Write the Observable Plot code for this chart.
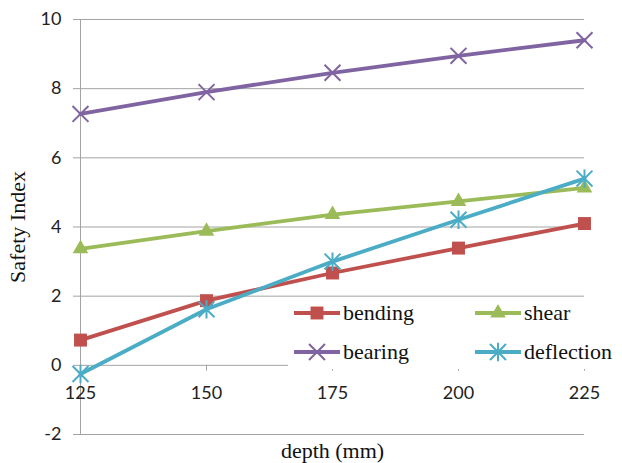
<!DOCTYPE html>
<html>
<head>
<meta charset="utf-8">
<script src="https://cdn.jsdelivr.net/npm/d3@7"></script>
<script src="https://cdn.jsdelivr.net/npm/@observablehq/plot@0.6"></script>
<style>
  html, body { margin: 0; padding: 0; background: #fff; }
  #wrap { position: relative; width: 622px; height: 463px; overflow: hidden; }
  #legend {
    position: absolute; left: 288px; top: 298px; width: 334px; height: 71px;
    background: #fff;
  }
  .item { position: absolute; display: flex; align-items: center; height: 30px; }
  .item svg { display: block; margin-right: 2px; }
  .item span { font-family: "Liberation Serif", "DejaVu Serif", serif; font-size: 22px; color: #111; }
</style>
</head>
<body>
<div id="wrap"><div id="chart"></div><div id="legend"></div></div>
<script>
// Safety index of the section against each check, by section depth
const depth = [125, 150, 175, 200, 225];
const bending = [0.73, 1.87, 2.67, 3.39, 4.10];
const shear = [3.37, 3.88, 4.36, 4.74, 5.13];
const bearing = [7.27, 7.90, 8.46, 8.95, 9.40];
const deflection = [-0.25, 1.62, 3.00, 4.21, 5.40];

const seriesNames = ["bending", "shear", "bearing", "deflection"];
const seriesColors = ["#C0504D", "#9BBB59", "#8064A2", "#4BACC6"];
const yTicks = [-2, 0, 2, 4, 6, 8, 10];
const xTicks = [125, 150, 175, 200, 225];

// marker shapes: filled square, filled triangle, "x" and star (x with a vertical bar)
const timesSymbol = {
  draw(c, size) {
    const h = Math.sqrt(size) / 2;
    c.moveTo(-h, -h); c.lineTo(h, h);
    c.moveTo(-h, h); c.lineTo(h, -h);
  }
};
const starSymbol = {
  draw(c, size) {
    const h = Math.sqrt(size) / 2;
    c.moveTo(-h, -h); c.lineTo(h, h);
    c.moveTo(-h, h); c.lineTo(h, -h);
    c.moveTo(0, -h * 1.15); c.lineTo(0, h * 1.15);
  }
};
const symbols = [d3.symbolSquare, d3.symbolTriangle, timesSymbol, starSymbol];
const markerR = [7.3, 5.8, 9, 9];
const filled = [true, true, false, false];

const values = [bending, shear, bearing, deflection];
const rows = seriesNames.flatMap((name, i) =>
  depth.map((d, j) => ({series: name, depth: d, value: values[i][j]}))
);

const grid = "#a3a3a3";
const serif = "Liberation Serif, DejaVu Serif, serif";

const marks = [
  Plot.ruleY(yTicks, {stroke: grid, strokeWidth: 1}),
  Plot.ruleX([depth[0]], {stroke: grid, strokeWidth: 1}),
  Plot.axisY(yTicks, {tickSize: 7, tickPadding: 12, stroke: grid, fill: "#222", fontSize: 18, fontFamily: "Lato", label: null, tickFormat: d => String(d)}),
  // x-axis ticks hang below the zero line, labels underneath
  Plot.ruleX(xTicks, {y1: 0, y2: -0.17, stroke: grid, strokeWidth: 1}),
  Plot.text(xTicks, {x: d => d, y: 0, dy: 28, text: d => String(d), fill: "#222", fontSize: 18, fontFamily: "Lato"}),
  Plot.text(["Safety Index"], {frameAnchor: "left", textAnchor: "middle", lineAnchor: "middle", dx: -63, rotate: -90, fontSize: 22, fontFamily: serif, fill: "#111"}),
  Plot.text(["depth (mm)"], {frameAnchor: "bottom", textAnchor: "middle", lineAnchor: "middle", dy: 16, fontSize: 22, fontFamily: serif, fill: "#111"})
];

seriesNames.forEach((name, i) => {
  const data = rows.filter(r => r.series === name);
  marks.push(Plot.line(data, {x: "depth", y: "value", stroke: seriesColors[i], strokeWidth: 3.8}));
  marks.push(Plot.dot(data, {
    x: "depth", y: "value", symbol: symbols[i], r: markerR[i],
    fill: filled[i] ? seriesColors[i] : "none",
    stroke: seriesColors[i], strokeWidth: filled[i] ? 0 : 2
  }));
});

const chart = Plot.plot({
  width: 622,
  height: 463,
  marginLeft: 80,
  marginRight: 38,
  marginTop: 19,
  marginBottom: 29,
  x: {domain: [125, 225], axis: null},
  y: {domain: [-2, 10], axis: null},
  symbol: {type: "identity"},
  style: {background: "#fff", overflow: "visible"},
  marks
});
document.getElementById("chart").appendChild(chart);

// legend: two rows of line-and-marker swatches
const legend = d3.select("#legend");
const positions = [[5, 0], [186, 0], [5, 39], [186, 39]];
seriesNames.forEach((name, i) => {
  const item = legend.append("div").attr("class", "item")
    .style("left", positions[i][0] + "px").style("top", positions[i][1] + "px");
  const svg = item.append("svg").attr("width", 48).attr("height", 30);
  svg.append("line").attr("x1", 1).attr("x2", 47).attr("y1", 15).attr("y2", 15)
    .attr("stroke", seriesColors[i]).attr("stroke-width", 3.8);
  svg.append("path")
    .attr("transform", "translate(24,15)")
    .attr("d", d3.symbol(symbols[i], Math.PI * markerR[i] * markerR[i])())
    .attr("fill", filled[i] ? seriesColors[i] : "none")
    .attr("stroke", seriesColors[i]).attr("stroke-width", filled[i] ? 0 : 2);
  item.append("span").text(name);
});
</script>
</body>
</html>
